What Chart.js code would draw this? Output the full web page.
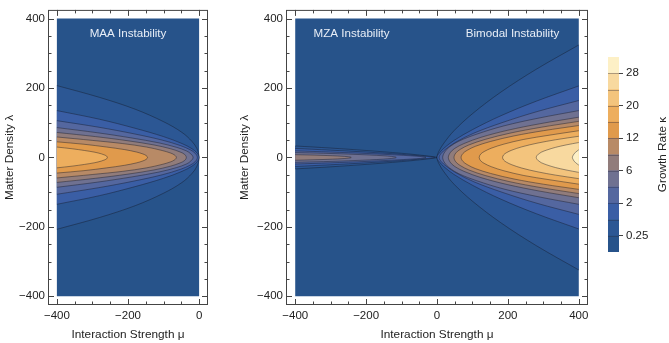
<!DOCTYPE html>
<html><head><meta charset="utf-8">
<script src="https://cdn.jsdelivr.net/npm/chart.js@4"></script>
<style>
html,body{margin:0;padding:0;background:#fff;width:669px;height:343px;overflow:hidden}
canvas{position:absolute;top:0}
</style></head><body>
<canvas id="c1" width="215" height="343" style="left:0px"></canvas>
<canvas id="c2" width="363" height="343" style="left:232px"></canvas>
<canvas id="c3" width="69" height="343" style="left:600px"></canvas>
<script>
// ---------- data ----------
const bandColors = ['#27538a','#2c5794','#3a5ea5','#54679f','#6f7191','#917c7b','#b88a66','#e09a4c','#edae5e','#f3c47d','#f8d99f','#fdf0c6'];
const colorbarTickPos = [1,3,5,7,9,11];
const colorbarTickLabels = ['0.25','2','6','12','20','28'];

const xTicksLeft = [-400,-200,0];
const xMinorLeft = [-350,-300,-250,-150,-100,-50];
const xTicksRight = [-400,-200,0,200,400];
const xMinorRight = [-350,-300,-250,-150,-100,-50,50,100,150,250,300,350];
const yTicks = [-400,-200,0,200,400];
const yMinor = [-350,-300,-250,-150,-100,-50,50,100,150,250,300,350];

// MAA panel (mu from -400 to 0): contour upper halves [mu, lambda], edge -> tip
const maa1 = [[-400,207],[-280,173],[-180,139],[-100,103],[-48,72],[-20,46],[-6,25],[0,0]];
const maa2 = [[-400,135],[-280,110],[-180,84],[-100,60],[-48,40],[-20,25],[-6,13],[0,0]];
const maa3 = [[-400,106],[-282,87],[-183,68],[-104,50],[-52,34],[-25,22],[-11,12],[-5,0]];
const maa4 = [[-400,86],[-285,71],[-189,56],[-113,42],[-63,29],[-36,19],[-23,10],[-17,0]];
const maa5 = [[-400,72],[-291,60],[-200,48],[-127,36],[-80,25],[-54,16],[-41,9],[-36,0]];
const maa6 = [[-400,59],[-299,49],[-215,40],[-148,30],[-104,20],[-81,13],[-69,7],[-64,0]];
const maa7 = [[-400,45],[-324,38],[-260,30],[-209,22.5],[-176,15.6],[-158,10],[-149,5.5],[-145,0]];
const maa8 = [[-400,30],[-357,25],[-322,20],[-293,15],[-275,10.4],[-265,6.7],[-260,3.7],[-258,0]];
const maaBands = [1,2,3,4,5,6,7,8];

// MZA (mu < 0 on right panel)
const mza1 = [[-400,33],[-300,27],[-200,20],[-100,12],[-50,7],[-20,3.5],[-5,1.2],[0,0]];
const mza2 = [[-400,26],[-300,21],[-200,15.5],[-100,9],[-50,5],[-20,2.2],[-8,0.8],[-6,0]];
const mza3 = [[-400,19],[-300,15.5],[-200,11.5],[-120,7.5],[-70,4.5],[-45,2.6],[-34,1.2],[-31,0]];
const mza4 = [[-400,14],[-320,12],[-250,9.6],[-190,7],[-150,4.8],[-128,2.9],[-118,1.4],[-115,0]];
const mza5 = [[-400,8],[-350,6.8],[-310,5.5],[-280,4.2],[-260,3],[-250,2],[-244,1],[-242,0]];
const mzaBands = [1,2,3,4,5];

// Bimodal (mu > 0 on right panel)
const bim1 = [[400,324],[280,254],[180,188],[100,126],[48,77],[20,42],[6,19],[0,0]];
const bim2 = [[400,206],[280,162],[180,120],[100,80],[48,49],[20,27],[6,12],[0,0]];
const bim3 = [[400,164],[282,132],[183,100],[104,70],[53,44],[26,25],[12,12],[6,0]];
const bim4 = [[400,135],[285,113],[189,91],[112,67],[62,47],[35,30],[22,16],[16,0]];
const bim5 = [[400,116],[290,97],[198,78],[124,58],[76,40],[50,26],[37.5,14],[32,0]];
const bim6 = [[400,104],[294,87],[206,70],[136,52],[90,36],[65.6,23.3],[53,12.7],[48,0]];
const bim7 = [[400,92],[300,77],[217,62],[151,46],[108,32],[85,20.5],[73,11.2],[68,0]];
const bim8 = [[400,77],[316,64],[245,52],[189,38.5],[153,26.6],[133,17],[123,9.4],[119,0]];
const bim9 = [[400,61],[335,51],[282,41],[239,30.5],[211,21],[196,13.7],[188,7.4],[185,0]];
const bim10 = [[400,43],[364,36],[334,29],[310,21.5],[294,15],[286,9.6],[282,5.2],[280,0]];
const bim11 = [[400,22],[395,18.4],[391,14.8],[387,11],[385,7.6],[383.5,4.9],[382.5,2.7],[382,0]];
const bimBands = [1,2,3,4,5,6,7,8,9,10,11];

const leftRegion = [[-400,-400],[0,-400],[0,400],[-400,400]];
const rightRegion = [[-400,-400],[400,-400],[400,400],[-400,400]];

// ---------- helpers ----------
const FONT = '"Liberation Sans", Arial, Helvetica, sans-serif';
Chart.defaults.font.family = FONT;
Chart.defaults.color = '#222';

function shape(pts){
  const up = pts.map(([x,y])=>({x,y}));
  const down = pts.slice(0,-1).reverse().map(([x,y])=>({x,y:-y}));
  return up.concat(down);
}
function regionDs(pts){
  return {data: pts.map(([x,y])=>({x,y})), fill:'shape', backgroundColor: bandColors[0], borderWidth:0, pointRadius:0, tension:0};
}
function contourDs(pts, band){
  return {data: shape(pts), fill:'shape', backgroundColor: bandColors[band], borderColor:'rgba(20,25,40,0.55)', borderWidth:0.8, pointRadius:0, tension:0.35};
}
const fmt = v => v < 0 ? '\u2212' + Math.abs(v) : String(v);

const framePlugin = {
  id: 'frame',
  afterDatasetsDraw(chart, args, o) {
    const {ctx, chartArea: a} = chart;
    const xs = chart.scales.x, ys = chart.scales.y;
    ctx.save();
    ctx.fillStyle = '#e8eef7';
    ctx.font = '11.6px ' + FONT;
    ctx.textAlign = 'center'; ctx.textBaseline = 'middle';
    o.labels.forEach(l => ctx.fillText(l.text, xs.getPixelForValue(l.x), ys.getPixelForValue(l.y)));
    ctx.strokeStyle = '#444'; ctx.lineWidth = 1;
    ctx.strokeRect(a.left+0.5, a.top+0.5, a.width-1, a.height-1);
    ctx.beginPath();
    const xt = (vals, len) => vals.forEach(v => {
      const p = Math.round(xs.getPixelForValue(v)) + 0.5;
      ctx.moveTo(p, a.bottom); ctx.lineTo(p, a.bottom - len);
      ctx.moveTo(p, a.top); ctx.lineTo(p, a.top + len);
    });
    const yt = (vals, len) => vals.forEach(v => {
      const p = Math.round(ys.getPixelForValue(v)) + 0.5;
      ctx.moveTo(a.left, p); ctx.lineTo(a.left + len, p);
      ctx.moveTo(a.right, p); ctx.lineTo(a.right - len, p);
    });
    xt(o.xMajor, 6); xt(o.xMinor, 3.5); yt(yTicks, 6); yt(yMinor, 3.5);
    ctx.stroke();
    ctx.restore();
  }
};

function panel(id, xmin, xmax, datasets, xMajor, xMinor, yAxisWidth, yTitlePad, labels){
  return new Chart(document.getElementById(id), {
    type: 'line',
    data: {datasets},
    plugins: [framePlugin],
    options: {
      responsive:false, animation:false, events:[],
      layout:{padding:{top:4, right:7, left:0, bottom:0}},
      plugins:{legend:{display:false}, tooltip:{enabled:false}, frame:{xMajor, xMinor, labels}},
      scales:{
        x:{type:'linear', min:xmin, max:xmax,
          afterBuildTicks: s => { s.ticks = xMajor.map(v=>({value:v})); },
          afterFit: s => { s.height = 38; },
          grid:{display:false, drawTicks:false}, border:{display:false},
          ticks:{callback: v => fmt(v), padding:4, autoSkip:false, maxRotation:0, font:{size:11.5}, color:'#222'},
          title:{display:true, text:'Interaction Strength \u03BC', font:{size:11.8}, color:'#222', padding:{top:0, bottom:1}}},
        y:{type:'linear', min:-425, max:425,
          afterBuildTicks: s => { s.ticks = yTicks.map(v=>({value:v})); },
          afterFit: s => { s.width = yAxisWidth; },
          grid:{display:false, drawTicks:false}, border:{display:false},
          ticks:{callback: v => fmt(v), padding:3, autoSkip:false, font:{size:11.5}, color:'#222'},
          title:{display:true, text:'Matter Density \u03BB', font:{size:11.8}, color:'#222', padding:{top:yTitlePad, bottom:0}}}
      }
    }
  });
}

const leftSets = [regionDs(leftRegion)];
[maa1,maa2,maa3,maa4,maa5,maa6,maa7,maa8].forEach((c,i)=>leftSets.push(contourDs(c, maaBands[i])));
leftSets.forEach((d,i)=>{ d.order = 100 - i; });
panel('c1', -425, 25, leftSets, xTicksLeft, xMinorLeft, 48, 3, [{text:'MAA Instability', x:-200, y:355}]);

const rightSets = [regionDs(rightRegion)];
[mza1,mza2,mza3,mza4,mza5].forEach((c,i)=>rightSets.push(contourDs(c, mzaBands[i])));
[bim1,bim2,bim3,bim4,bim5,bim6,bim7,bim8,bim9,bim10,bim11].forEach((c,i)=>rightSets.push(contourDs(c, bimBands[i])));
rightSets.forEach((d,i)=>{ d.order = 100 - i; });
panel('c2', -426, 426, rightSets, xTicksRight, xMinorRight, 54, 6,
  [{text:'MZA Instability', x:-241, y:355}, {text:'Bimodal Instability', x:213, y:355}]);

// ---------- colorbar ----------
const cbPlugin = {
  id: 'cb',
  afterDatasetsDraw(chart) {
    const {ctx, chartArea: a} = chart;
    const ys = chart.scales.y;
    ctx.save();
    ctx.strokeStyle = 'rgba(40,40,60,0.45)'; ctx.lineWidth = 0.8;
    ctx.beginPath();
    for (let i = 1; i < bandColors.length; i++) {
      const p = Math.round(ys.getPixelForValue(i)) + 0.5;
      ctx.moveTo(a.left, p); ctx.lineTo(a.right, p);
    }
    ctx.stroke();
    ctx.translate(63, (a.top + a.bottom) / 2);
    ctx.rotate(-Math.PI/2);
    ctx.fillStyle = '#222'; ctx.font = '11.8px ' + FONT;
    ctx.textAlign = 'center'; ctx.textBaseline = 'middle';
    ctx.fillText('Growth Rate \u03BA', 0, 0);
    ctx.restore();
  }
};
new Chart(document.getElementById('c3'), {
  type:'bar',
  data:{labels:[''], datasets: bandColors.map(c => ({data:[1], backgroundColor:c, borderWidth:0, barPercentage:1, categoryPercentage:1}))},
  plugins:[cbPlugin],
  options:{
    responsive:false, animation:false, events:[],
    layout:{padding:{left:8, top:57, bottom:91, right:0}},
    plugins:{legend:{display:false}, tooltip:{enabled:false}},
    scales:{
      x:{stacked:true, display:false},
      y:{stacked:true, position:'right', min:0, max:12,
        afterBuildTicks: s => { s.ticks = colorbarTickPos.map(v=>({value:v})); },
        afterFit: s => { s.width = 50; },
        grid:{display:true, drawOnChartArea:false, tickLength:4, color:'#444'},
        border:{display:false},
        ticks:{callback: v => colorbarTickLabels[colorbarTickPos.indexOf(v)], padding:3, font:{size:11.5}, color:'#222'}}
    }
  }
});
</script>
</body></html>
